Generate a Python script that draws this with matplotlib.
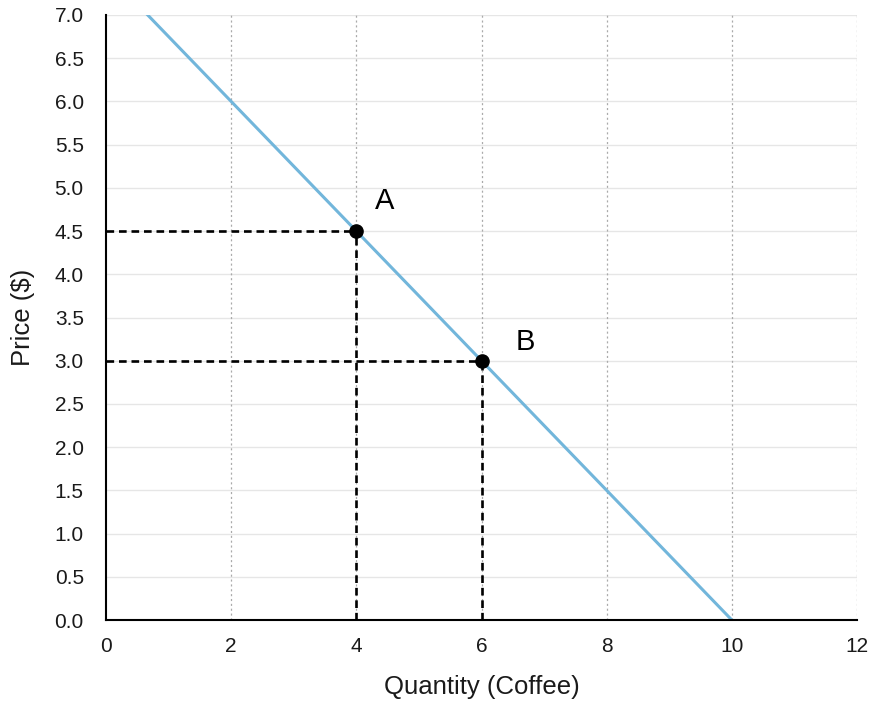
import matplotlib
matplotlib.use("Agg")
import matplotlib.pyplot as plt

plt.rcParams['font.family'] = ['Liberation Sans', 'DejaVu Sans']
plt.rcParams['lines.scale_dashes'] = False

# Data
demand_qty = [0, 10]
demand_price = [7.5, 0.0]
point_labels = ["A", "B"]
point_qty = [4, 6]
point_price = [4.5, 3.0]
x_ticks = [0, 2, 4, 6, 8, 10, 12]
y_ticks = [0.0, 0.5, 1.0, 1.5, 2.0, 2.5, 3.0, 3.5, 4.0, 4.5, 5.0, 5.5, 6.0, 6.5, 7.0]

fig = plt.figure(figsize=(8.71, 7.03), dpi=100)
ax = fig.add_axes([106/871, 1-620/703, 751/871, 605/703])

ax.set_xlim(0, 12)
ax.set_ylim(0, 7)

# grid
for yv in y_ticks[1:]:
    ax.axhline(yv, color='#e6e6e6', lw=1.0, zorder=0)
for xv in x_ticks[1:]:
    ax.axvline(xv, color='#aaaaaa', lw=0.9, ls=(0, (1.5, 2.0)), zorder=0)

# demand line
ax.plot(demand_qty, demand_price, color='#72b6db', lw=2.2, zorder=2)

# dashed guides and points
for q, p, lab, dx, dy in zip(point_qty, point_price, point_labels, [0.46, 0.70], [0.35, 0.22]):
    ax.plot([0, q], [p, p], color='black', lw=1.9, dashes=(5.5, 3.5), zorder=3, clip_on=False)
    ax.plot([q, q], [0, p], color='black', lw=1.9, dashes=(5.5, 3.5), zorder=3, clip_on=False)
    ax.plot([q], [p], 'o', color='black', ms=9.5, zorder=4)
    ax.text(q + dx, p + dy, lab, fontsize=21, ha='center', va='center', color='black')

ax.set_xticks(x_ticks)
ax.set_xticklabels([str(v) for v in x_ticks])
ax.set_yticks(y_ticks)
ax.set_yticklabels([f"{v:.1f}" for v in y_ticks])
ax.tick_params(axis='both', length=0, labelsize=15, colors='#1a1a1a')
ax.tick_params(axis='y', pad=16)
ax.tick_params(axis='x', pad=12)

for s in ['top', 'right']:
    ax.spines[s].set_visible(False)
for s in ['left', 'bottom']:
    ax.spines[s].set_linewidth(1.5)
    ax.spines[s].set_color('black')

ax.set_xlabel("Quantity (Coffee)", fontsize=18.5, color='#1a1a1a')
ax.set_ylabel("Price ($)", fontsize=18.5, color='#1a1a1a')
ax.xaxis.set_label_coords(0.5, (620-687)/605)
ax.xaxis.label.set_va('center')
ax.yaxis.set_label_coords((23-106)/751, 0.5)
ax.yaxis.label.set_va('center')

fig.savefig("out.png", dpi=100)
